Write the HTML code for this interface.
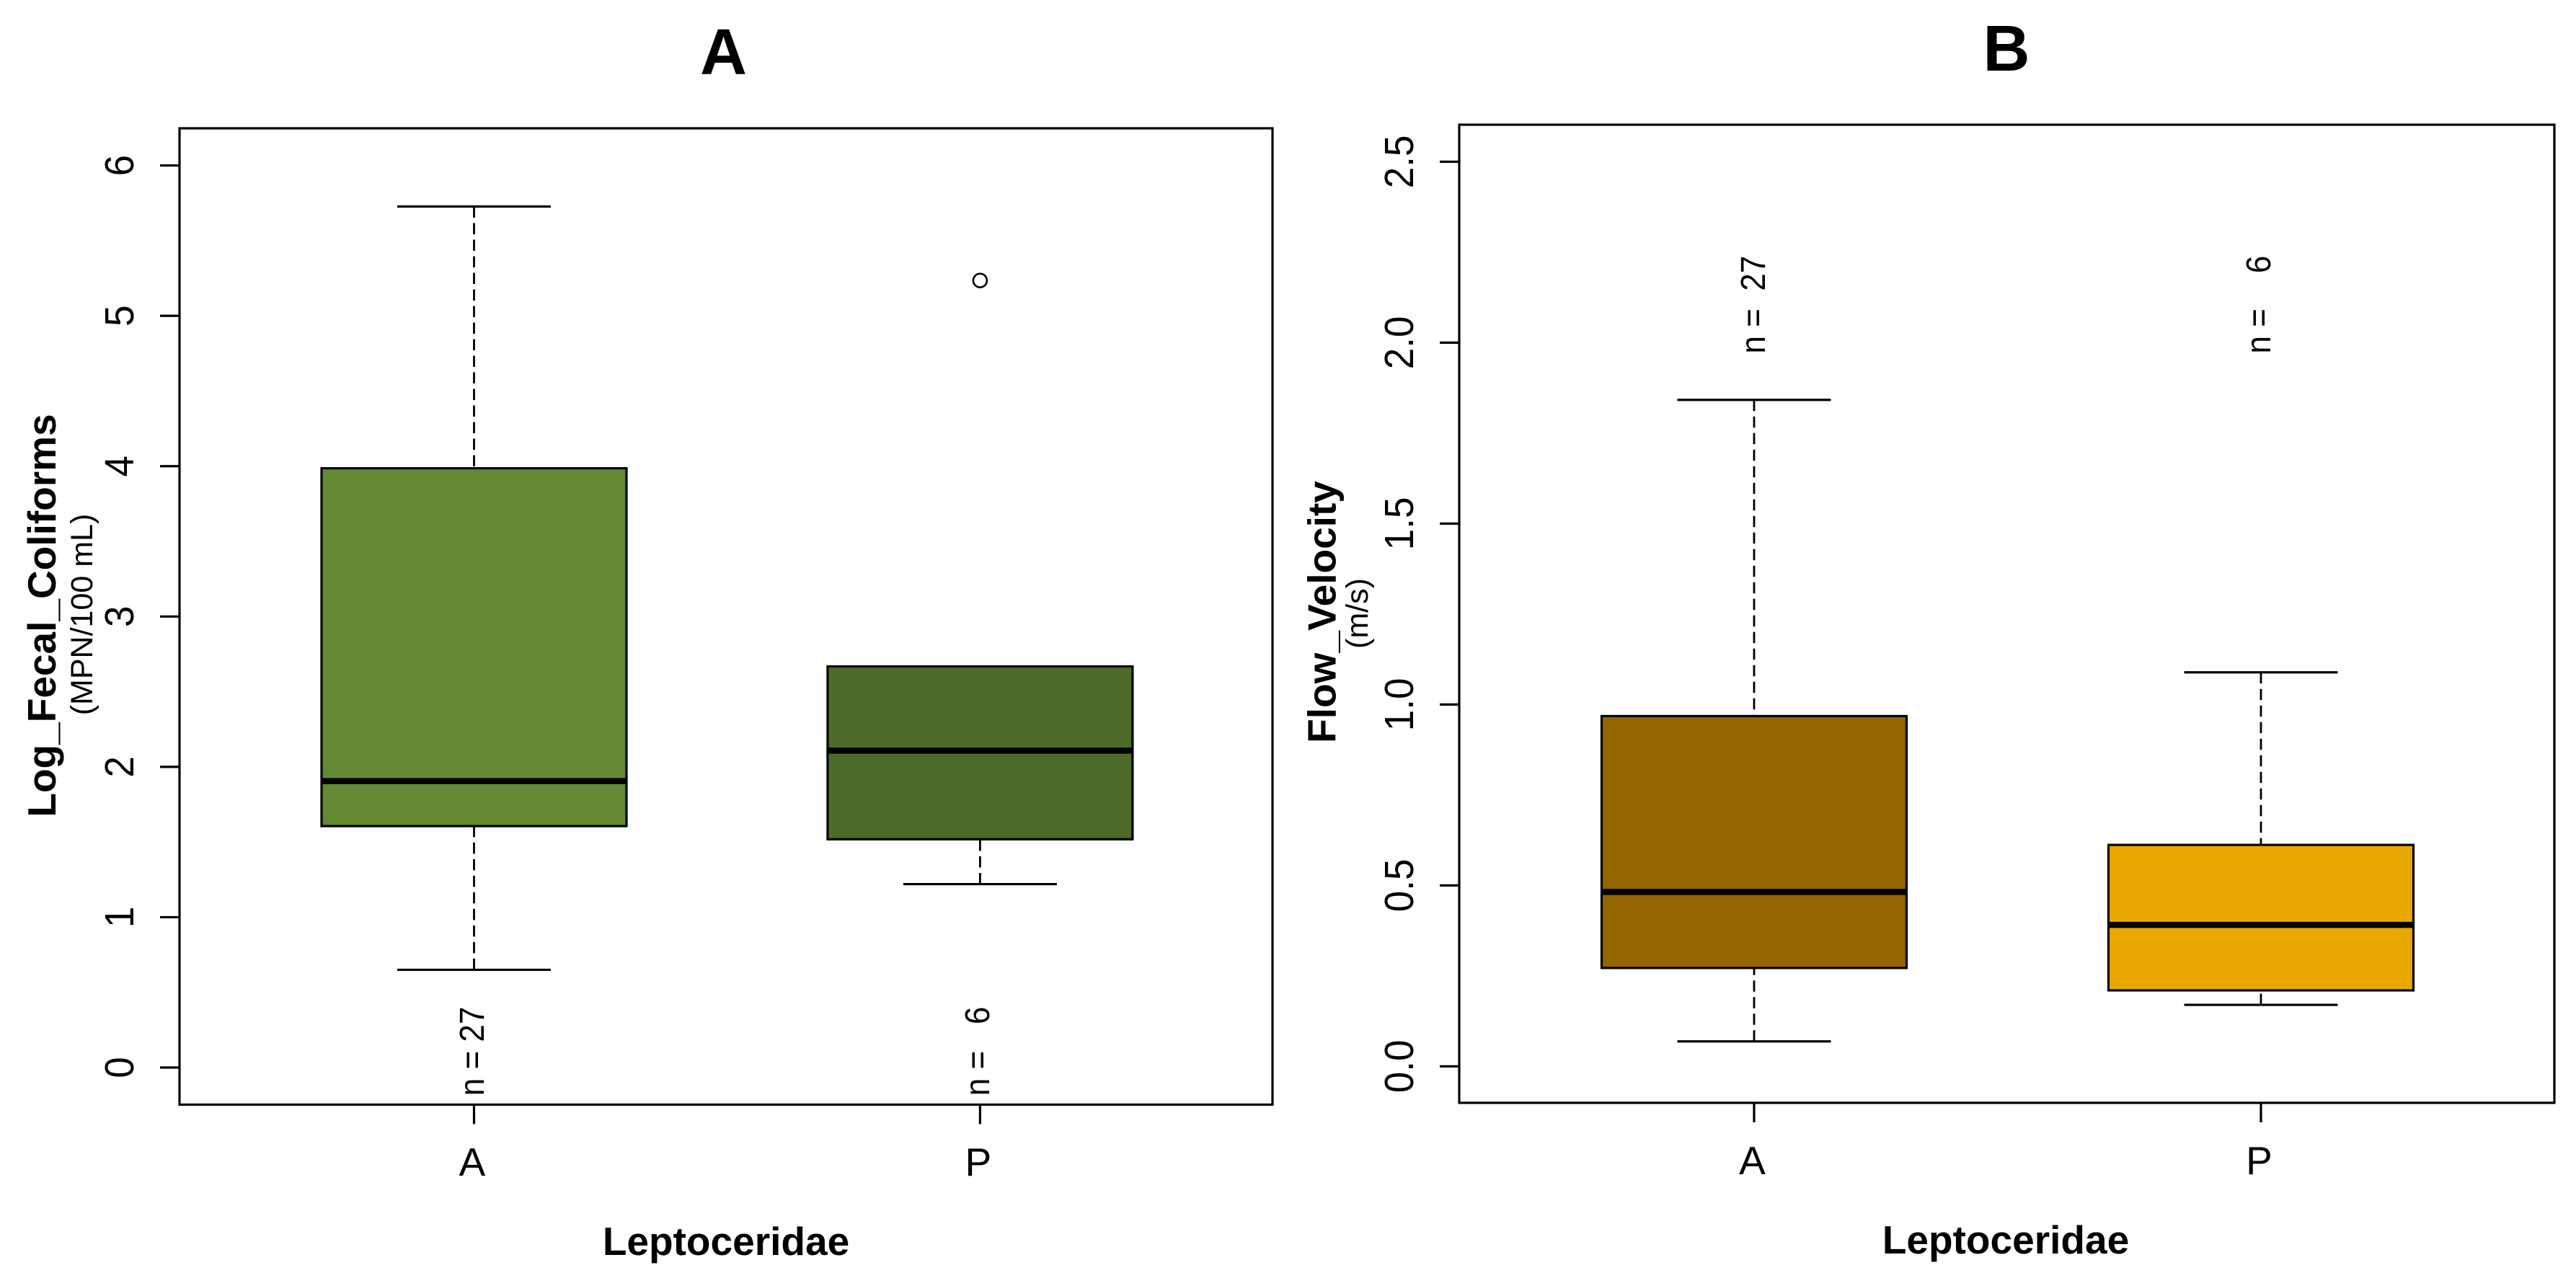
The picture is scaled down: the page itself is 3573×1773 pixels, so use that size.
<!DOCTYPE html>
<html lang="en">
<head>
<meta charset="utf-8">
<title>Leptoceridae boxplots</title>
<style>
  html, body { margin: 0; padding: 0; background: #fff; }
  svg { display: block; font-family: "Liberation Sans", Arial, sans-serif; }
  text { fill: #000; white-space: pre; }
  .title { font-size: 90px; font-weight: bold; text-anchor: middle; }
  .axis-title { font-size: 55px; font-weight: bold; text-anchor: middle; }
  .unit { font-size: 43px; text-anchor: middle; }
  .tick-x { font-size: 55px; text-anchor: middle; }
  .tick-y { font-size: 53px; text-anchor: middle; }
  .count { font-size: 44px; text-anchor: start; }
</style>
</head>
<body>
<svg id="chart" xmlns="http://www.w3.org/2000/svg" width="3573" height="1773" viewBox="0 0 3573 1773">
  <rect x="0" y="0" width="3573" height="1773" fill="#ffffff"/>
  <g id="panel-a">
    <text class="title" x="1003.5" y="103">A</text>
    <text class="axis-title" x="1007" y="1741">Leptoceridae</text>
    <text class="axis-title" transform="translate(77,854) rotate(-90)">Log_Fecal_Coliforms</text>
    <text class="unit" transform="translate(128,852.5) rotate(-90)">(MPN/100 mL)</text>
    <rect x="249" y="178" width="1516" height="1354.5" fill="none" stroke="#000" stroke-width="3.2"/>
  </g>
  <g id="panel-b">
    <text class="title" x="2783" y="98">B</text>
    <text class="axis-title" x="2782" y="1739">Leptoceridae</text>
    <text class="axis-title" transform="translate(1852.5,849) rotate(-90)">Flow_Velocity</text>
    <text class="unit" transform="translate(1897,851) rotate(-90)">(m/s)</text>
    <rect x="2024" y="173" width="1519" height="1357" fill="none" stroke="#000" stroke-width="3.2"/>
  </g>
</svg>
<script>
// Shared categories
const categories = ['A', 'P'];

// Panel A: Log fecal coliforms
const fecalTickValues = [0, 1, 2, 3, 4, 5, 6];
const fecalTickLabels = ['0', '1', '2', '3', '4', '5', '6'];
const fecalLowerWhisker = [0.65, 1.22];
const fecalQ1 = [1.606, 1.518];
const fecalMedian = [1.905, 2.108];
const fecalQ3 = [3.986, 2.668];
const fecalUpperWhisker = [5.727, 2.668];
const fecalOutliers = [[], [5.235]];
const fecalCounts = ['n = 27', 'n =   6'];
const fecalCountLevel = [-0.188, -0.188];
const fecalFills = ['#648a33', '#4d6b28'];

// Panel B: Flow velocity
const flowTickValues = [0, 0.5, 1, 1.5, 2, 2.5];
const flowTickLabels = ['0.0', '0.5', '1.0', '1.5', '2.0', '2.5'];
const flowLowerWhisker = [0.069, 0.17];
const flowQ1 = [0.272, 0.21];
const flowMedian = [0.482, 0.391];
const flowQ3 = [0.968, 0.612];
const flowUpperWhisker = [1.842, 1.089];
const flowOutliers = [[], []];
const flowCounts = ['n =  27', 'n =    6'];
const flowCountLevel = [1.97, 1.97];
const flowFills = ['#956600', '#eaa700'];

const SVG_NS = 'http://www.w3.org/2000/svg';

function xFecal(i) { return 657.5 + 701.9 * i; }
function yFecal(v) { return 1481 - 208.57 * v; }
function xFlow(i) { return 2433 + 703 * i; }
function yFlow(v) { return 1479.4 - 502 * v; }

function make(parent, tag, attrs) {
  const el = document.createElementNS(SVG_NS, tag);
  for (const k in attrs) el.setAttribute(k, attrs[k]);
  parent.appendChild(el);
  return el;
}

function line(parent, x1, y1, x2, y2, width, dash) {
  const attrs = { x1: x1, y1: y1, x2: x2, y2: y2, stroke: '#000', 'stroke-width': width };
  if (dash) attrs['stroke-dasharray'] = dash;
  return make(parent, 'line', attrs);
}

function drawPanel(p) {
  const root = document.getElementById(p.id);

  p.tickValues.forEach(function (v, i) {
    const y = p.y(v);
    const tick = line(root, p.left - 27, y, p.left, y, 3.2);
    
    
    const label = make(root, 'text', {
      class: 'tick-y',
      transform: 'translate(' + p.yLabelX + ',' + y + ') rotate(-90) scale(1,1.06)'
    });
    label.textContent = p.tickLabels[i];
    
    
  });

  categories.forEach(function (cat, i) {
    const cx = p.x(i);

    const tick = line(root, cx, p.bottom, cx, p.bottom + 27, 3.2);
    
    

    const label = make(root, 'text', { class: 'tick-x', x: cx - 2.5, y: p.xLabelY });
    label.textContent = cat;
    
    

    if (p.hi[i] > p.q3[i]) {
      const upper = line(root, cx, p.y(p.hi[i]), cx, p.y(p.q3[i]), 2.8, '15.5 7.5');
      
      

      const upperCap = line(root, cx - 106.5, p.y(p.hi[i]), cx + 106.5, p.y(p.hi[i]), 3.2);
      
      
    }

    const lower = line(root, cx, p.y(p.lo[i]), cx, p.y(p.q1[i]), 2.8, '15.5 7.5');
    
    

    const lowerCap = line(root, cx - 106.5, p.y(p.lo[i]), cx + 106.5, p.y(p.lo[i]), 3.2);
    
    

    const box = make(root, 'rect', {
      x: cx - 211.5, y: p.y(p.q3[i]), width: 423,
      height: p.y(p.q1[i]) - p.y(p.q3[i]),
      fill: p.fills[i], stroke: '#000', 'stroke-width': 3.2
    });
    
    

    const median = line(root, cx - 211.5, p.y(p.med[i]), cx + 211.5, p.y(p.med[i]), 8.5);
    
    

    p.outliers[i].forEach(function (v) {
      const dot = make(root, 'ellipse', {
        cx: cx, cy: p.y(v), rx: 9.5, ry: 9.5, fill: 'none', stroke: '#000', 'stroke-width': 2.6
      });
      
      
    });

    const count = make(root, 'text', {
      class: 'count',
      transform: 'translate(' + p.countX[i] + ',' + p.y(p.countLevel[i]) + ') rotate(-90) scale(1,1.1)'
    });
    count.textContent = p.counts[i];
    
    
  });
}

drawPanel({
  id: 'panel-a', prefix: 'panel-a', x: xFecal, y: yFecal,
  left: 249, bottom: 1532.5, yLabelX: 185, xLabelY: 1631,
  tickValues: fecalTickValues, tickLabels: fecalTickLabels,
  lo: fecalLowerWhisker, q1: fecalQ1, med: fecalMedian, q3: fecalQ3, hi: fecalUpperWhisker,
  outliers: fecalOutliers, counts: fecalCounts, countLevel: fecalCountLevel,
  countX: [671, 1372], fills: fecalFills
});

drawPanel({
  id: 'panel-b', prefix: 'panel-b', x: xFlow, y: yFlow,
  left: 2024, bottom: 1530, yLabelX: 1960, xLabelY: 1629,
  tickValues: flowTickValues, tickLabels: flowTickLabels,
  lo: flowLowerWhisker, q1: flowQ1, med: flowMedian, q3: flowQ3, hi: flowUpperWhisker,
  outliers: flowOutliers, counts: flowCounts, countLevel: flowCountLevel,
  countX: [2448, 3149], fills: flowFills
});
</script>
</body>
</html>
